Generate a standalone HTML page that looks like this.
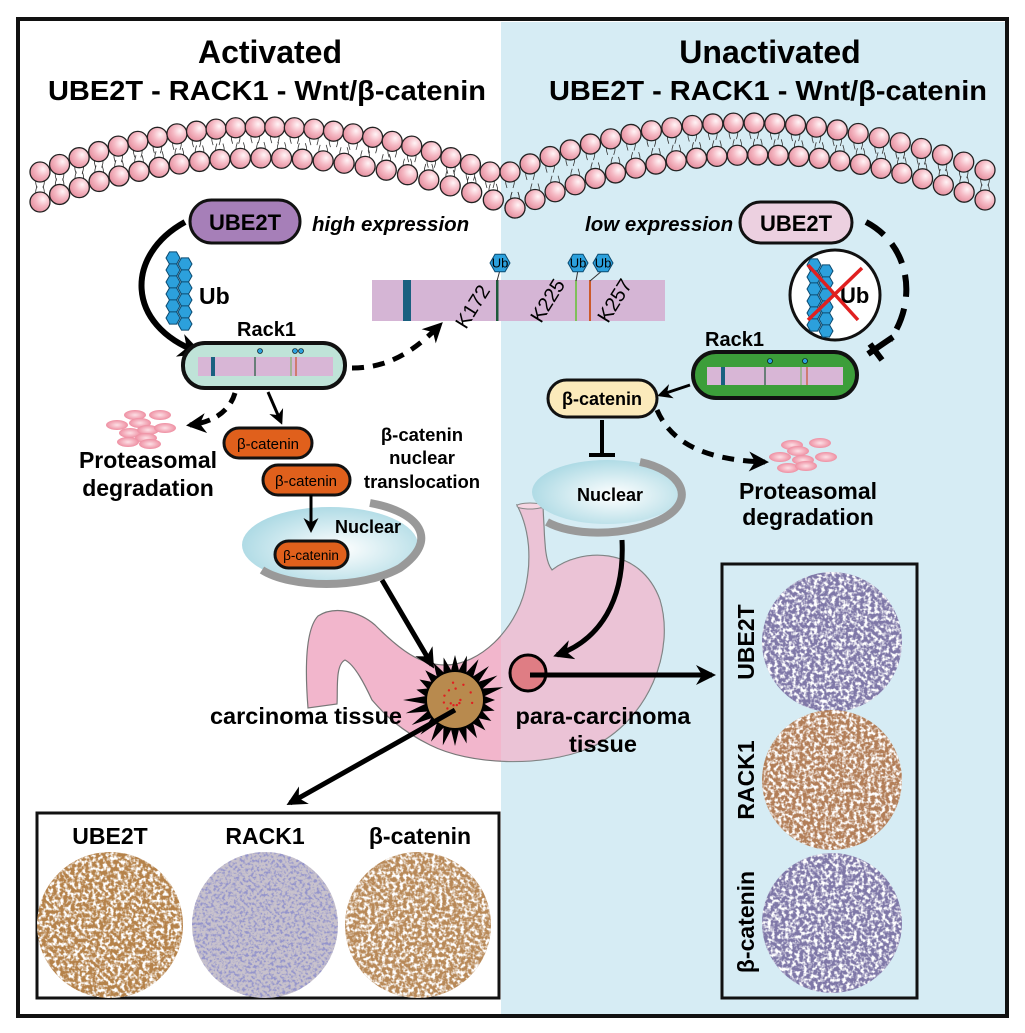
<!DOCTYPE html>
<html><head><meta charset="utf-8"><style>
html,body{margin:0;padding:0;background:#fff}
svg{display:block;font-family:"Liberation Sans",Arial,sans-serif}
.b{font-weight:bold}
</style></head><body>
<svg id="s" width="1025" height="1033" viewBox="0 0 1025 1033" xmlns="http://www.w3.org/2000/svg">
<defs>
<radialGradient id="nuc" cx="0.55" cy="0.55" r="0.6"><stop offset="0" stop-color="#ffffff"/><stop offset="1" stop-color="#a9d8e3"/></radialGradient>
<radialGradient id="sph" cx="0.65" cy="0.35" r="0.7"><stop offset="0" stop-color="#fff4f6"/><stop offset="0.5" stop-color="#f5b9c4"/><stop offset="1" stop-color="#e58e9e"/></radialGradient>
<radialGradient id="pro" cx="0.5" cy="0.5" r="0.5"><stop offset="0" stop-color="#fde0e6"/><stop offset="1" stop-color="#ee8fa2"/></radialGradient>
<filter id="spk" x="0" y="0" width="1" height="1">
<feTurbulence type="fractalNoise" baseFrequency="0.28" numOctaves="2" seed="3" result="n"/>
<feColorMatrix in="n" type="matrix" values="0 0 0 0 1  0 0 0 0 1  0 0 0 0 1  -4 0 0 0 2.3" result="w"/>
<feComposite in="w" in2="SourceGraphic" operator="in"/>
</filter>
<filter id="spk2" x="0" y="0" width="1" height="1">
<feTurbulence type="fractalNoise" baseFrequency="0.35" numOctaves="2" seed="7" result="n"/>
<feColorMatrix in="n" type="matrix" values="0 0 0 0 0.3  0 0 0 0 0.3  0 0 0 0 0.6  -4 0 0 0 2.2" result="w"/>
<feComposite in="w" in2="SourceGraphic" operator="in"/>
</filter>
<marker id="ah" viewBox="0 0 10 10" refX="8" refY="5" markerWidth="4" markerHeight="4" orient="auto"><path d="M0,0 L10,5 L0,10 L3,5 Z" fill="#000"/></marker>
<marker id="ahs" viewBox="0 0 10 10" refX="8" refY="5" markerWidth="5" markerHeight="5" orient="auto"><path d="M0,0 L10,5 L0,10 L3,5 Z" fill="#000"/></marker>
</defs>
<rect x="0" y="0" width="1025" height="1033" fill="#fff"/>
<rect x="501" y="22" width="505" height="994" fill="#d6ecf4"/>
<rect x="18" y="19" width="989" height="997" fill="none" stroke="#111" stroke-width="4"/>

<text x="270" y="63" font-size="32" class="b" text-anchor="middle">Activated</text>
<text x="267" y="100" font-size="28" class="b" text-anchor="middle" textLength="438" lengthAdjust="spacingAndGlyphs">UBE2T - RACK1 - Wnt/β-catenin</text>
<text x="770" y="63" font-size="32" class="b" text-anchor="middle">Unactivated</text>
<text x="768" y="100" font-size="28" class="b" text-anchor="middle" textLength="438" lengthAdjust="spacingAndGlyphs">UBE2T - RACK1 - Wnt/β-catenin</text>

<g id="mem"></g>

<!-- stomach -->
<path d="M517 505 L543 508 C545 540 544 560 552 570 C580 548 640 545 660 600 C675 650 650 720 590 748 C540 768 470 765 430 745 C400 730 385 715 372 700 C365 685 355 665 345 660 C335 665 338 690 337 704 L308 708 C305 670 305 630 318 616 C335 605 360 612 375 625 C400 650 420 665 445 665 C480 665 515 630 525 590 C532 560 530 530 517 505 Z" fill="#f2b6cc" stroke="#777" stroke-width="1.2"/>
<clipPath id="stc"><path d="M517 505 L543 508 C545 540 544 560 552 570 C580 548 640 545 660 600 C675 650 650 720 590 748 C540 768 470 765 430 745 C400 730 385 715 372 700 C365 685 355 665 345 660 C335 665 338 690 337 704 L308 708 C305 670 305 630 318 616 C335 605 360 612 375 625 C400 650 420 665 445 665 C480 665 515 630 525 590 C532 560 530 530 517 505 Z"/></clipPath>
<path d="M501 500 L501 780 L700 780 L700 500 Z" fill="#d6ecf4" opacity="0.25" clip-path="url(#stc)"/>
<ellipse cx="530" cy="506" rx="13" ry="3" fill="#f6d6e2" stroke="#888" stroke-width="1"/>

<!-- left side -->
<rect x="190" y="200" width="110" height="43" rx="21.5" fill="#a67fb8" stroke="#111" stroke-width="3"/>
<text x="245" y="230" font-size="22" class="b" text-anchor="middle">UBE2T</text>
<text x="312" y="231" font-size="20.5" class="b" font-style="italic">high expression</text>
<path d="M185 222 C125 255 125 325 198 352" fill="none" stroke="#000" stroke-width="6" marker-end="url(#ah)"/>
<g id="ubL"></g>
<text x="199" y="304" font-size="23" class="b">Ub</text>
<text x="237" y="336" font-size="20" class="b">Rack1</text>
<rect x="183" y="343" width="162" height="45" rx="22" fill="#bfe3d8" stroke="#111" stroke-width="4"/>
<rect x="198" y="357" width="135" height="19" fill="#d8b6d6"/>
<rect x="211" y="357" width="4" height="19" fill="#1a6080"/>
<line x1="255" y1="357" x2="255" y2="376" stroke="#1d5a3a" stroke-width="1.2"/>
<line x1="291" y1="357" x2="291" y2="376" stroke="#7fb26a" stroke-width="1.2"/>
<line x1="296" y1="357" x2="296" y2="376" stroke="#c8562c" stroke-width="1.2"/>
<circle cx="260" cy="351" r="2.5" fill="#2ca0dc" stroke="#000" stroke-width="0.6"/>
<circle cx="295" cy="351" r="2.5" fill="#2ca0dc" stroke="#000" stroke-width="0.6"/>
<circle cx="301" cy="351" r="2.5" fill="#2ca0dc" stroke="#000" stroke-width="0.6"/>
<path d="M352 368 C390 368 415 350 440 325" fill="none" stroke="#000" stroke-width="5" stroke-dasharray="12,9" marker-end="url(#ah)"/>

<!-- big bar -->
<rect x="372" y="280" width="293" height="41" fill="#d5b5d5"/>
<rect x="403" y="280" width="8" height="41" fill="#1a6080"/>
<rect x="496" y="280" width="2.5" height="41" fill="#1d5a3a"/>
<rect x="575" y="280" width="2" height="41" fill="#7fbf5a"/>
<rect x="589" y="280" width="2" height="41" fill="#cc5a2a"/>
<g font-size="20" fill="#000">
<text transform="translate(466,330) rotate(-58)">K172</text>
<text transform="translate(541,324) rotate(-58)">K225</text>
<text transform="translate(608,324) rotate(-58)">K257</text>
</g>
<g id="ubBar"></g>

<!-- proteasome left -->
<g id="protL"></g>
<path d="M235 393 C230 410 215 422 190 425" fill="none" stroke="#000" stroke-width="5" stroke-dasharray="11,8" marker-end="url(#ah)"/>
<text x="148" y="468" font-size="23" class="b" text-anchor="middle">Proteasomal</text>
<text x="148" y="496" font-size="23" class="b" text-anchor="middle">degradation</text>
<path d="M268 392 L281 422" stroke="#000" stroke-width="3" marker-end="url(#ahs)"/>

<!-- nucleus left -->
<ellipse cx="330" cy="545" rx="88" ry="38" fill="url(#nuc)"/>
<path d="M370 503 C420 512 440 540 400 568 C360 590 290 588 262 570" fill="none" stroke="#999" stroke-width="8"/>
<text x="368" y="533" font-size="18" class="b" text-anchor="middle">Nuclear</text>

<rect x="224" y="428" width="88" height="30" rx="15" fill="#e0601c" stroke="#111" stroke-width="3"/>
<text x="268" y="449" font-size="15" text-anchor="middle">β-catenin</text>
<rect x="263" y="465" width="87" height="30" rx="15" fill="#e0601c" stroke="#111" stroke-width="3"/>
<text x="306" y="486" font-size="15" text-anchor="middle">β-catenin</text>
<path d="M311 495 L311 530" stroke="#000" stroke-width="3" marker-end="url(#ahs)"/>
<rect x="275" y="541" width="73" height="27" rx="13.5" fill="#e0601c" stroke="#111" stroke-width="3"/>
<text x="311" y="560" font-size="13.5" text-anchor="middle">β-catenin</text>
<g font-size="18.5" class="b" text-anchor="middle">
<text x="422" y="441">β-catenin</text>
<text x="422" y="464">nuclear</text>
<text x="422" y="488">translocation</text>
</g>
<path d="M382 580 L432 665" stroke="#000" stroke-width="5" marker-end="url(#ah)"/>

<!-- tumor -->
<g id="tumor"></g>
<text x="402" y="724" font-size="23.5" class="b" text-anchor="end">carcinoma tissue</text>
<path d="M455 710 L290 803" stroke="#000" stroke-width="5" marker-end="url(#ah)"/>

<!-- right side -->
<text x="585" y="231" font-size="20.5" class="b" font-style="italic">low expression</text>
<rect x="740" y="202" width="112" height="41" rx="20.5" fill="#ecd0e0" stroke="#111" stroke-width="3"/>
<text x="796" y="231" font-size="22" class="b" text-anchor="middle">UBE2T</text>
<path d="M866 222 C910 245 918 300 890 340" fill="none" stroke="#000" stroke-width="6" stroke-dasharray="22,12"/>
<path d="M868 354 L893 337" stroke="#000" stroke-width="6"/>
<path d="M870 344 L882 360" stroke="#000" stroke-width="6"/>
<circle cx="835" cy="295" r="45" fill="#fff" stroke="#111" stroke-width="3"/>
<g id="ubR"></g>
<text x="840" y="303" font-size="22" class="b">Ub</text>
<path d="M808 265 L858 320 M862 268 L808 320" stroke="#e02020" stroke-width="3.5"/>
<text x="705" y="346" font-size="20" class="b">Rack1</text>
<rect x="693" y="352" width="164" height="46" rx="23" fill="#3c9e3a" stroke="#111" stroke-width="4"/>
<rect x="707" y="367" width="136" height="18" fill="#d8b6d6"/>
<rect x="721" y="367" width="4" height="18" fill="#1a6080"/>
<line x1="765" y1="367" x2="765" y2="385" stroke="#1d5a3a" stroke-width="1.2"/>
<line x1="801" y1="367" x2="801" y2="385" stroke="#7fb26a" stroke-width="1.2"/>
<line x1="807" y1="367" x2="807" y2="385" stroke="#c8562c" stroke-width="1.2"/>
<circle cx="770" cy="361" r="2.5" fill="#2ca0dc" stroke="#000" stroke-width="0.6"/>
<circle cx="805" cy="361" r="2.5" fill="#2ca0dc" stroke="#000" stroke-width="0.6"/>
<path d="M690 385 L660 395" stroke="#000" stroke-width="3" marker-end="url(#ahs)"/>
<rect x="548" y="380" width="109" height="37" rx="18.5" fill="#fbeabb" stroke="#111" stroke-width="3"/>
<text x="602" y="405" font-size="18" class="b" text-anchor="middle">β-catenin</text>
<path d="M602 420 L602 455 M589 455 L615 455" stroke="#000" stroke-width="4"/>
<path d="M657 410 C670 440 700 460 765 462" fill="none" stroke="#000" stroke-width="5" stroke-dasharray="12,9" marker-end="url(#ah)"/>
<g id="protR"></g>
<text x="808" y="499" font-size="23" class="b" text-anchor="middle">Proteasomal</text>
<text x="808" y="525" font-size="23" class="b" text-anchor="middle">degradation</text>

<ellipse cx="607" cy="492" rx="75" ry="32" fill="url(#nuc)"/>
<path d="M640 462 C680 470 700 500 660 520 C620 538 570 535 547 522" fill="none" stroke="#999" stroke-width="8"/>
<text x="610" y="501" font-size="18" class="b" text-anchor="middle">Nuclear</text>
<path d="M622 540 C625 600 600 640 557 655" fill="none" stroke="#000" stroke-width="5" marker-end="url(#ah)"/>
<circle cx="528" cy="673" r="18" fill="#df7d84" stroke="#000" stroke-width="3"/>
<path d="M530 675 L712 675" stroke="#000" stroke-width="5" marker-end="url(#ah)"/>
<text x="603" y="724" font-size="23.5" class="b" text-anchor="middle">para-carcinoma</text>
<text x="603" y="752" font-size="23.5" class="b" text-anchor="middle">tissue</text>

<!-- bottom box -->
<rect x="37" y="813" width="462" height="185" fill="#fff" stroke="#111" stroke-width="3"/>
<g font-size="23" class="b" text-anchor="middle">
<text x="110" y="844">UBE2T</text><text x="265" y="844">RACK1</text><text x="420" y="844">β-catenin</text>
</g>
<circle cx="110" cy="925" r="73" fill="#b5824a"/><circle cx="110" cy="925" r="73" filter="url(#spk)"/>
<circle cx="265" cy="925" r="73" fill="#c8c2cc"/><circle cx="265" cy="925" r="73" filter="url(#spk2)"/>
<circle cx="418" cy="925" r="73" fill="#b88958"/><circle cx="418" cy="925" r="73" filter="url(#spk)"/>

<!-- right box -->
<rect x="722" y="564" width="195" height="434" fill="#d6ecf4" stroke="#111" stroke-width="3"/>
<g font-size="23" class="b" text-anchor="middle">
<text transform="translate(754,642) rotate(-90)">UBE2T</text>
<text transform="translate(754,780) rotate(-90)">RACK1</text>
<text transform="translate(754,922) rotate(-90)">β-catenin</text>
</g>
<circle cx="832" cy="642" r="70" fill="#7f78a8"/><circle cx="832" cy="642" r="70" filter="url(#spk)"/>
<circle cx="832" cy="780" r="70" fill="#b27e58"/><circle cx="832" cy="780" r="70" filter="url(#spk)"/>
<circle cx="832" cy="923" r="70" fill="#7f78a8"/><circle cx="832" cy="923" r="70" filter="url(#spk)"/>
</svg>
<script>
var NS="http://www.w3.org/2000/svg";
function el(p,t,a){var e=document.createElementNS(NS,t);for(var k in a)e.setAttribute(k,a[k]);p.appendChild(e);return e;}
function q(p0,c,p1,t){return (1-t)*(1-t)*p0+2*(1-t)*t*c+t*t*p1;}
var mem=document.getElementById("mem");
function row(x0,y0,cx,cy,x1,y1,n,tails,dir){
 var pts=[];
 for(var i=0;i<n;i++){var t=i/(n-1);pts.push([q(x0,cx,x1,t),q(y0,cy,y1,t)]);}
 if(tails)pts.forEach(function(p){el(mem,"path",{d:"M"+(p[0]-3)+" "+p[1]+" q-3 "+(dir*8)+" 0 "+(dir*16)+" M"+(p[0]+3)+" "+p[1]+" q3 "+(dir*8)+" 0 "+(dir*16),fill:"none",stroke:"#333","stroke-width":"0.8"});});
 return pts;
}
var rows=[[40,172,265,82,490,172,24,1],[40,202,265,111,515,208,24,-1],[510,172,740,75,985,170,24,1],[515,208,745,106,985,200,24,-1]];
var all=[];
rows.forEach(function(r){all.push(row(r[0],r[1],r[2],r[3],r[4],r[5],r[6],true,r[7]));});
all.forEach(function(pts){pts.forEach(function(p){el(mem,"circle",{cx:p[0],cy:p[1],r:10,fill:"url(#sph)",stroke:"#222","stroke-width":"1.3"});});});
function hex(p,cx,cy,r,txt,fs){var d="";for(var i=0;i<6;i++){var a=Math.PI/3*i;d+=(i?"L":"M")+(cx+r*Math.cos(a)).toFixed(1)+" "+(cy+r*Math.sin(a)).toFixed(1);}
 el(p,"path",{d:d+"Z",fill:"#2ca0dc",stroke:"#0b4a70","stroke-width":"1"});
 if(txt){var t=el(p,"text",{x:cx,y:cy+fs*0.35,"font-size":fs,"text-anchor":"middle"});t.textContent=txt;}}
var ubL=document.getElementById("ubL");
for(var i=0;i<6;i++){hex(ubL,173,258+i*12,7);hex(ubL,185,264+i*12,7);}
var ubR=document.getElementById("ubR");
for(var i=0;i<6;i++){hex(ubR,814,265+i*12,7);hex(ubR,826,271+i*12,7);}
var ubB=document.getElementById("ubBar");
[[500,263,497],[578,263,576],[603,263,590]].forEach(function(h){el(ubB,"line",{x1:h[0],y1:270,x2:h[2],y2:281,stroke:"#333","stroke-width":"1"});hex(ubB,h[0],h[1],10,"Ub",13);});
function prot(id,list){var g=document.getElementById(id);list.forEach(function(e){el(g,"ellipse",{cx:e[0],cy:e[1],rx:11,ry:5,fill:"url(#pro)",stroke:e[2]?"#000":"none","stroke-width":"1"});});}
prot("protL",[[135,415],[160,415],[140,423],[117,425],[130,433],[148,430],[165,428],[146,438],[128,442],[150,444]]);
prot("protR",[[792,445],[820,443],[798,451],[780,457],[803,460],[826,457],[788,468],[806,466]]);
var tu=document.getElementById("tumor");var d="";
for(var i=0;i<48;i++){var a=Math.PI*2*i/48;var r=(i%2)?30:(40+ (i*7%13));d+=(i?"L":"M")+(455+r*Math.cos(a)).toFixed(1)+" "+(700+r*Math.sin(a)).toFixed(1);}
el(tu,"path",{d:d+"Z",fill:"#000"});
el(tu,"circle",{cx:455,cy:700,r:28,fill:"#b88a4e"});
for(var i=0;i<14;i++){el(tu,"circle",{cx:455+Math.cos(i*2.3)*18*((i%3)/3+0.3),cy:700+Math.sin(i*2.3)*18*((i%3)/3+0.3),r:1.2,fill:"#e02020"});}
</script>
</body></html>
